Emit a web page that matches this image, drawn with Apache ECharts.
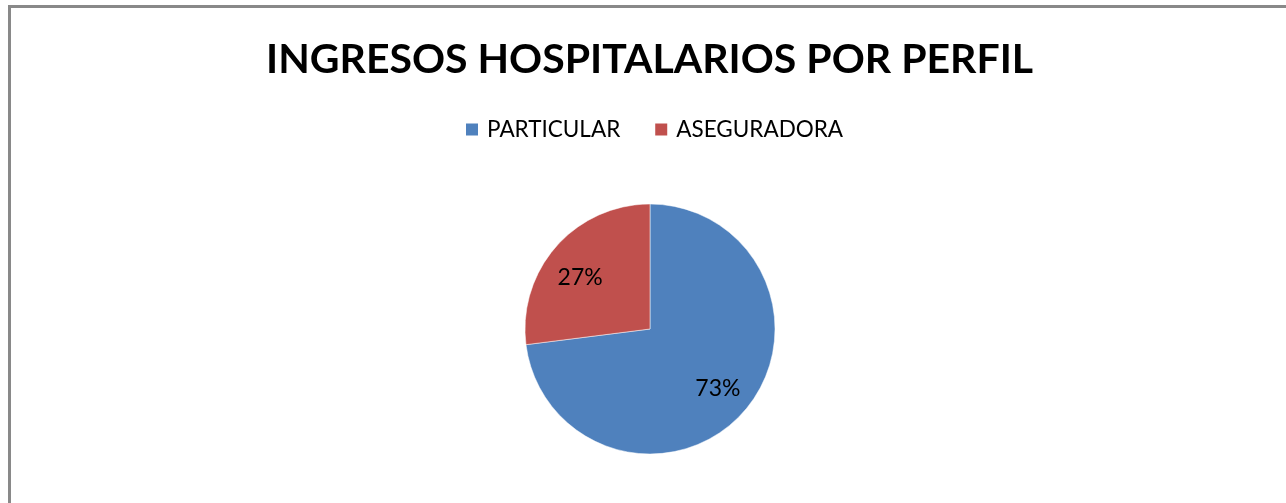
<!DOCTYPE html>
<html>
<head>
<meta charset="utf-8">
<script src="https://cdn.jsdelivr.net/npm/echarts@6/dist/echarts.min.js"></script>
<style>
  html, body { margin: 0; padding: 0; background: #fff; }
  #frame { position: absolute; left: 8px; top: 5px; width: 1290px; height: 510px; border: 3px solid #898989; box-sizing: border-box; }
  #chart { position: absolute; left: 0; top: 0; width: 1286px; height: 503px; }
</style>
</head>
<body>
<div id="frame"></div>
<div id="chart"></div>
<script>
const titleText = 'INGRESOS HOSPITALARIOS POR PERFIL';
const categories = ['PARTICULAR', 'ASEGURADORA'];
const values = [73, 27];
const colors = ['#4F81BD', '#C0504D'];

const data = categories.map((c, i) => ({ name: c, value: values[i], itemStyle: { color: colors[i] } }));
const font = 'Lato, "Open Sans", sans-serif';

const chart = echarts.init(document.getElementById('chart'), null, { renderer: 'canvas' });
chart.setOption({
  backgroundColor: 'transparent',
  animation: false,
  title: {
    text: titleText,
    left: 261,
    top: 34,
    textStyle: { fontFamily: font, fontWeight: 'bold', fontSize: 41, color: '#000' }
  },
  legend: {
    data: categories,
    top: 113,
    left: 459,
    itemWidth: 14,
    itemHeight: 14,
    itemGap: 33,
    icon: 'rect',
    textStyle: { fontFamily: font, fontSize: 22.5, color: '#000', padding: [0, 0, 0, 3] }
  },
  series: [
    {
      type: 'pie',
      center: [650, 329],
      radius: [0, 125],
      startAngle: 90,
      clockwise: true,
      data: data,
      label: { show: false },
      labelLine: { show: false },
      itemStyle: { borderColor: '#fff', borderWidth: 0.5 }
    },
    {
      type: 'pie',
      center: [650, 329],
      radius: [50, 125],
      startAngle: 90,
      clockwise: true,
      silent: true,
      data: data.map(d => ({ name: d.name, value: d.value, itemStyle: { color: 'rgba(0,0,0,0)' } })),
      label: {
        show: true,
        position: 'inside',
        formatter: '{d}%',
        fontFamily: font,
        fontSize: 23,
        color: '#000'
      },
      labelLayout: function (params) {
        return params.dataIndex === 1 ? { dx: -2, dy: 8 } : {};
      },
      labelLine: { show: false }
    }
  ]
});
</script>
</body>
</html>
